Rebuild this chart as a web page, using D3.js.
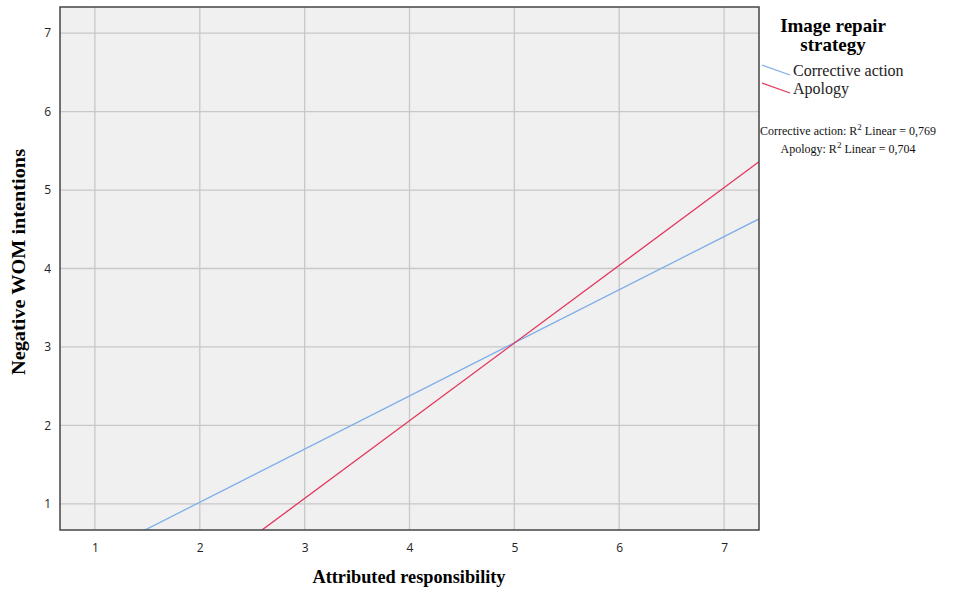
<!DOCTYPE html>
<html><head><meta charset="utf-8">
<script src="https://cdn.jsdelivr.net/npm/d3@7"></script>
<style>body{margin:0;background:#fff}</style></head>
<body><svg id="c" width="972" height="590"></svg>
<script>
const xTicks = [1,2,3,4,5,6,7];
const yTicks = [1,2,3,4,5,6,7];
const seriesNames = ["Corrective action","Apology"];
const fitX = [0.667, 7.333];
const correctiveY = [0.118, 4.632];
const apologyY = [-1.24, 5.36];
const r2Labels = ["Corrective action: R", "Apology: R"];
const r2Values = ["0,769","0,704"];
const colors = ["#7eaee8","#e2365d"];

const svg = d3.select("#c");
const L=60, R=759, T=7, B=530;
const x = d3.scaleLinear().domain([0.667,7.333]).range([L,R]);
const y = d3.scaleLinear().domain([0.667,7.333]).range([B,T]);

svg.append("rect").attr("x",L).attr("y",T).attr("width",R-L).attr("height",B-T).attr("fill","#f0f0f0");
svg.append("defs").append("clipPath").attr("id","clip").append("rect").attr("x",L).attr("y",T).attr("width",R-L).attr("height",B-T);

const g = svg.append("g");
g.selectAll(".vg").data(xTicks).join("line").attr("x1",d=>x(d)).attr("x2",d=>x(d)).attr("y1",T).attr("y2",B).attr("stroke","#c8c8c8").attr("stroke-width",1.3);
g.selectAll(".hg").data(yTicks).join("line").attr("y1",d=>y(d)).attr("y2",d=>y(d)).attr("x1",L).attr("x2",R).attr("stroke","#c8c8c8").attr("stroke-width",1.3);

const series = [correctiveY, apologyY];
const line = d3.line().x(d=>x(d[0])).y(d=>y(d[1]));
svg.append("g").attr("clip-path","url(#clip)").selectAll("path").data(series).join("path")
  .attr("d",s=>line(fitX.map((xv,i)=>[xv,s[i]]))).attr("fill","none")
  .attr("stroke",(d,i)=>colors[i]).attr("stroke-width",1.3);

svg.append("rect").attr("x",L).attr("y",T).attr("width",R-L).attr("height",B-T).attr("fill","none").attr("stroke","#444").attr("stroke-width",1.5);

const xa = svg.append("g").attr("transform",`translate(0,${B})`).call(d3.axisBottom(x).tickValues(xTicks).tickFormat(d3.format("d")).tickSize(0).tickPadding(13));
const ya = svg.append("g").attr("transform",`translate(${L},0)`).call(d3.axisLeft(y).tickValues(yTicks).tickFormat(d3.format("d")).tickSize(0).tickPadding(9));
[xa,ya].forEach(a=>{a.select(".domain").remove();a.selectAll("text").attr("font-family","'Open Sans',sans-serif").attr("font-size",12).attr("fill","#222");});

svg.append("text").attr("x",409).attr("y",583).attr("text-anchor","middle").attr("font-family","'Liberation Serif',serif").attr("font-weight","bold").attr("font-size",18).attr("textLength",193).attr("lengthAdjust","spacingAndGlyphs").text("Attributed responsibility");
svg.append("text").attr("transform","translate(25,262) rotate(-90)").attr("text-anchor","middle").attr("font-family","'Liberation Serif',serif").attr("font-weight","bold").attr("font-size",18).attr("textLength",226).attr("lengthAdjust","spacingAndGlyphs").text("Negative WOM intentions");

const lg = svg.append("g").attr("font-family","'Liberation Serif',serif");
lg.append("text").attr("x",833).attr("y",32).attr("text-anchor","middle").attr("font-weight","bold").attr("font-size",19).text("Image repair");
lg.append("text").attr("x",833).attr("y",51).attr("text-anchor","middle").attr("font-weight","bold").attr("font-size",19).text("strategy");
seriesNames.forEach((n,i)=>{
  const yy = 65 + i*18;
  lg.append("line").attr("x1",762).attr("x2",790).attr("y1",yy).attr("y2",yy+10).attr("stroke",colors[i]).attr("stroke-width",1.3);
  lg.append("text").attr("x",793).attr("y",yy+11).attr("font-size",16).attr("fill","#222").text(n);
});
r2Labels.forEach((t,i)=>{
  const tx = lg.append("text").attr("x",848).attr("y",135+i*18).attr("text-anchor","middle").attr("font-size",12).attr("fill","#111");
  tx.append("tspan").text(t);
  tx.append("tspan").attr("dy",-5).attr("font-size",9).text("2");
  tx.append("tspan").attr("dy",5).text(" Linear = "+r2Values[i]);
});
</script></body></html>
